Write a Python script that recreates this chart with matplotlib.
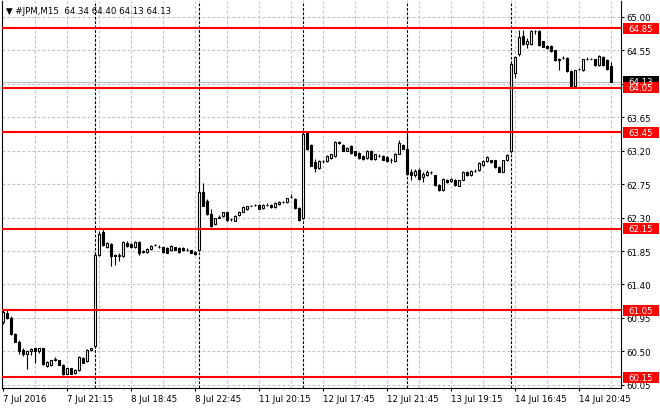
import numpy as np
import matplotlib
matplotlib.use("Agg")
import matplotlib.pyplot as plt
import matplotlib.transforms as mtransforms
from matplotlib.patches import Rectangle

plt.rcParams['font.family'] = ['DejaVu Sans']
labelFont = {'size': 6.2}

# ---- data: JPM M15, 7 Jul 2016 17:15 .. 14 Jul 2016 22:45 ----
opens = [60.89, 61.02, 60.95, 60.73, 60.63, 60.52, 60.47, 60.51, 60.54, 60.50, 60.54, 60.30, 60.31, 60.39, 60.38, 60.32, 60.20, 60.27, 60.21, 60.25, 60.41, 60.37, 60.52,
         60.57, 61.80, 62.10, 61.90, 61.95, 61.79, 61.79, 61.78, 61.96, 61.95, 61.90, 61.97, 61.84, 61.84, 61.88, 61.93, 61.91, 61.90, 61.89, 61.86, 61.90, 61.89, 61.89, 61.87, 61.86, 61.84,
         61.87, 62.64, 62.53, 62.35, 62.21, 62.30, 62.32, 62.37, 62.28, 62.26, 62.33, 62.38, 62.41, 62.46, 62.47, 62.47, 62.43, 62.47, 62.47, 62.44, 62.48, 62.51, 62.51, 62.58, 62.55, 62.43,
         62.30, 63.44, 63.28, 63.05, 62.97, 63.06, 63.06, 63.10, 63.13, 63.32, 63.28, 63.20, 63.27, 63.19, 63.17, 63.13, 63.10, 63.20, 63.09, 63.13, 63.13, 63.12, 63.07, 63.06, 63.16, 63.28,
         63.23, 62.91, 62.87, 62.94, 62.85, 62.88, 62.91, 62.87, 62.74, 62.67, 62.81, 62.79, 62.81, 62.73, 62.81, 62.92, 62.87, 62.93, 62.94, 63.01, 63.06, 63.07, 63.07, 62.98, 62.92, 63.07,
         63.19, 64.25, 64.50, 64.75, 64.63, 64.63, 64.81, 64.81, 64.67, 64.61, 64.61, 64.55, 64.44, 64.45, 64.45, 64.27, 64.07, 64.30, 64.28, 64.44, 64.44, 64.43, 64.35, 64.46, 64.42, 64.34]
highs = [61.06, 61.05, 60.97, 60.75, 60.65, 60.54, 60.52, 60.55, 60.55, 60.55, 60.55, 60.37, 60.39, 60.42, 60.39, 60.33, 60.28, 60.28, 60.26, 60.44, 60.42, 60.53, 60.55,
         61.84, 62.12, 62.14, 61.97, 61.96, 61.81, 61.82, 61.98, 61.98, 61.96, 61.98, 61.98, 61.86, 61.89, 61.93, 61.94, 61.93, 61.91, 61.90, 61.93, 61.91, 61.90, 61.90, 61.89, 61.87, 61.85,
         62.96, 62.76, 62.55, 62.41, 62.30, 62.33, 62.38, 62.38, 62.30, 62.33, 62.39, 62.45, 62.46, 62.47, 62.48, 62.48, 62.48, 62.49, 62.48, 62.51, 62.52, 62.52, 62.57, 62.62, 62.56, 62.44,
         63.46, 63.46, 63.29, 63.09, 63.07, 63.08, 63.14, 63.16, 63.33, 63.33, 63.29, 63.25, 63.28, 63.20, 63.18, 63.14, 63.21, 63.21, 63.16, 63.15, 63.14, 63.13, 63.10, 63.17, 63.35, 63.29,
         63.43, 62.95, 62.96, 62.97, 62.92, 62.94, 62.93, 62.88, 62.75, 62.83, 62.82, 62.83, 62.82, 62.81, 62.93, 62.93, 62.94, 62.96, 63.05, 63.07, 63.13, 63.08, 63.08, 62.99, 63.08, 63.15,
         64.40, 64.48, 64.82, 64.82, 64.72, 64.83, 64.82, 64.82, 64.68, 64.62, 64.62, 64.56, 64.45, 64.47, 64.46, 64.28, 64.29, 64.32, 64.44, 64.46, 64.45, 64.44, 64.49, 64.47, 64.43, 64.40]
lows = [60.87, 60.94, 60.72, 60.62, 60.47, 60.44, 60.26, 60.45, 60.34, 60.48, 60.32, 60.29, 60.30, 60.37, 60.31, 60.18, 60.19, 60.19, 60.19, 60.24, 60.34, 60.36, 60.51,
        60.55, 61.78, 61.92, 61.89, 61.65, 61.66, 61.71, 61.77, 61.91, 61.89, 61.89, 61.80, 61.83, 61.83, 61.87, 61.92, 61.89, 61.83, 61.82, 61.85, 61.86, 61.83, 61.85, 61.85, 61.82, 61.80,
        61.85, 62.45, 62.34, 62.17, 62.20, 62.29, 62.31, 62.25, 62.26, 62.25, 62.32, 62.37, 62.40, 62.45, 62.46, 62.41, 62.42, 62.45, 62.43, 62.43, 62.47, 62.50, 62.50, 62.56, 62.42, 62.26,
        62.28, 63.21, 62.99, 62.91, 62.96, 63.04, 63.05, 63.09, 63.12, 63.29, 63.19, 63.19, 63.16, 63.13, 63.09, 63.08, 63.09, 63.08, 63.08, 63.11, 63.07, 63.05, 63.04, 63.05, 63.15, 63.22,
        62.88, 62.80, 62.85, 62.81, 62.78, 62.86, 62.89, 62.73, 62.66, 62.66, 62.77, 62.78, 62.73, 62.72, 62.80, 62.86, 62.86, 62.92, 62.93, 63.00, 63.05, 63.04, 62.97, 62.91, 62.91, 63.06,
        63.17, 64.18, 64.48, 64.62, 64.58, 64.62, 64.77, 64.61, 64.59, 64.57, 64.53, 64.41, 64.28, 64.43, 64.26, 64.06, 64.06, 64.28, 64.27, 64.42, 64.43, 64.34, 64.34, 64.34, 64.29, 64.13]
closes = [61.03, 60.95, 60.73, 60.63, 60.51, 60.47, 60.50, 60.53, 60.50, 60.54, 60.33, 60.36, 60.38, 60.40, 60.32, 60.19, 60.27, 60.20, 60.25, 60.42, 60.35, 60.52, 60.54,
          61.80, 62.08, 61.93, 61.96, 61.78, 61.80, 61.80, 61.97, 61.92, 61.90, 61.97, 61.83, 61.85, 61.88, 61.92, 61.93, 61.91, 61.84, 61.83, 61.92, 61.87, 61.84, 61.86, 61.87, 61.83, 61.81,
          62.64, 62.46, 62.35, 62.19, 62.29, 62.31, 62.37, 62.27, 62.28, 62.32, 62.38, 62.44, 62.45, 62.46, 62.47, 62.42, 62.47, 62.47, 62.44, 62.50, 62.51, 62.51, 62.56, 62.58, 62.43, 62.27,
          63.43, 63.22, 63.00, 62.97, 63.06, 63.06, 63.13, 63.15, 63.32, 63.30, 63.20, 63.24, 63.17, 63.14, 63.10, 63.09, 63.20, 63.09, 63.15, 63.13, 63.08, 63.06, 63.07, 63.16, 63.30, 63.23,
          62.89, 62.87, 62.93, 62.82, 62.89, 62.92, 62.91, 62.74, 62.67, 62.82, 62.78, 62.82, 62.74, 62.80, 62.92, 62.87, 62.93, 62.93, 63.04, 63.06, 63.11, 63.05, 62.98, 62.92, 63.07, 63.14,
          64.37, 64.46, 64.73, 64.64, 64.67, 64.81, 64.81, 64.62, 64.60, 64.58, 64.54, 64.42, 64.42, 64.45, 64.27, 64.07, 64.28, 64.30, 64.43, 64.44, 64.44, 64.35, 64.48, 64.35, 64.30, 64.13]

tickBars = [0, 16, 32, 48, 64, 80, 96, 112, 128, 144]
tickLabels = ['7 Jul 2016', '7 Jul 21:15', '8 Jul 18:45', '8 Jul 22:45', '11 Jul 20:15',
              '12 Jul 17:45', '12 Jul 21:45', '13 Jul 19:15', '14 Jul 16:45', '14 Jul 20:45']
dayStarts = [23, 49, 75, 101, 127]
levels = [64.85, 64.05, 63.45, 62.15, 61.05, 60.15]
bidPrice = 64.13
priceTicks = [60.05, 60.50, 60.95, 61.40, 61.85, 62.30, 62.75, 63.20, 63.65, 64.10, 64.55, 65.00]
title = "\u25BC #JPM,M15  64.34 64.40 64.13 64.13"

o = np.array(opens); h = np.array(highs); l = np.array(lows); c = np.array(closes)
x = np.arange(len(o))

fig = plt.figure(figsize=(6.6, 4.1), dpi=100)
ax = fig.add_axes([2/660, 21/410, 619/660, 387/410])
ax.set_xlim(-0.325, 154.425)
ax.set_ylim(60.007, 65.215)

# grid
for p in priceTicks:
    ax.axhline(p, color='#c0c0c0', lw=0.8, dashes=(2.5, 2), zorder=0)
for b in range(8, len(x), 8):
    ax.axvline(b, color='#c0c0c0', lw=0.8, dashes=(2.5, 2), zorder=0)
for b in dayStarts:
    ax.axvline(b, color='black', lw=0.8, dashes=(2.5, 1.5), zorder=1)

ax.axhline(bidPrice, color='#c0c0c0', lw=0.8, zorder=1)

# candles
up = c > o
ax.vlines(x, l, h, color='black', lw=0.8, zorder=2)
bottoms = np.minimum(o, c)
heights = np.abs(c - o)
ax.bar(x[up], heights[up], bottom=bottoms[up], width=0.5, color='white',
       edgecolor='black', lw=0.8, zorder=3)
ax.bar(x[~up], heights[~up], bottom=bottoms[~up], width=0.5, color='black',
       edgecolor='black', lw=0.8, zorder=3)

for lv in levels:
    ax.axhline(lv, color='red', lw=1.5, zorder=4)

# axes styling
for s in ['top']:
    ax.spines[s].set_visible(False)
for s in ['left', 'bottom', 'right']:
    ax.spines[s].set_linewidth(0.8)
ax.yaxis.tick_right()
ax.set_yticks(priceTicks)
ax.set_yticklabels(['' if p == 64.10 else '%.2f' % p for p in priceTicks], **labelFont)
ax.set_xticks(tickBars)
ax.set_xticklabels(tickLabels, ha='left', **labelFont)
ax.tick_params(axis='y', length=2.5, width=0.8, pad=1.5)
ax.tick_params(axis='x', length=2.5, width=0.8, pad=1.5)

ax.text(4/619, 1 - 9/387, title, transform=ax.transAxes, va='center', ha='left',
        fontsize=6.2, zorder=6)

# price labels on the right scale
trans = mtransforms.blended_transform_factory(ax.transAxes, ax.transData)
halfH = 5.5 / 74.3
def priceTag(val, col):
    ax.add_patch(Rectangle((1 + 1.5/619, val - halfH), 36/619, 2*halfH, transform=trans,
                           facecolor=col, edgecolor='none', clip_on=False, zorder=7))
    ax.text(1 + 19.5/619, val, '%.2f' % val, transform=trans, color='white', ha='center',
            va='center', clip_on=False, zorder=8, **labelFont)

priceTag(bidPrice, 'black')
for lv in levels:
    priceTag(lv, 'red')

plt.savefig('out.png', dpi=100)
